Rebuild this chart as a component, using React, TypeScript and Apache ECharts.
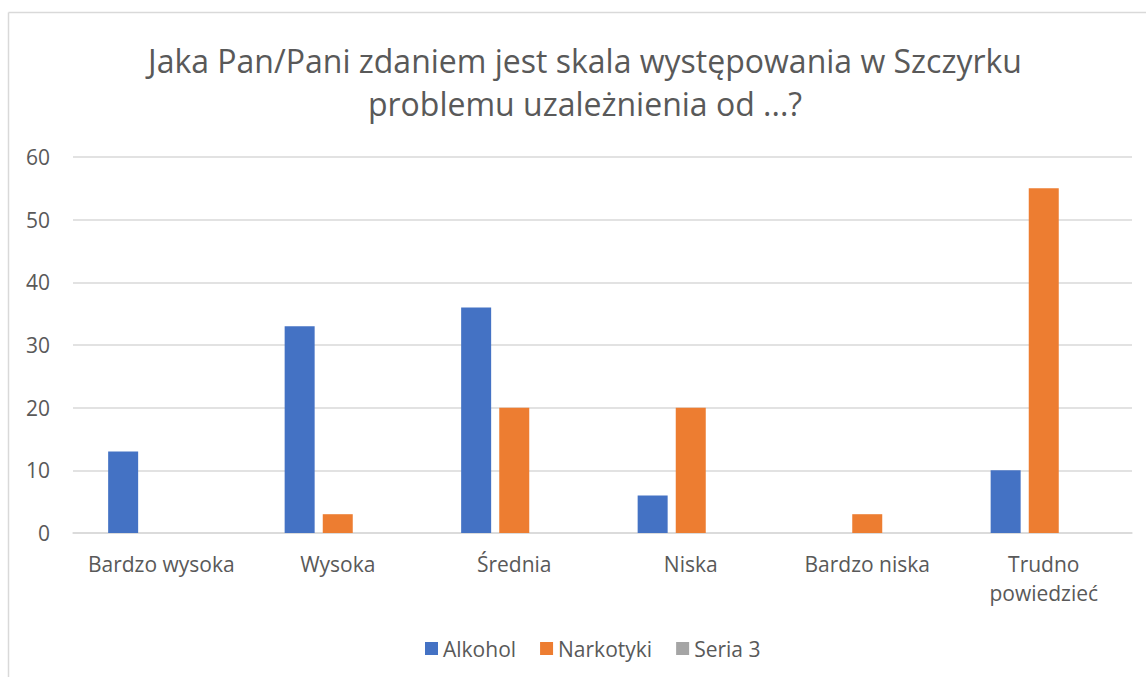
import React, { useEffect, useRef } from "react";
import * as echarts from "echarts";

const titleText = "Jaka Pan/Pani zdaniem jest skala występowania w Szczyrku\nproblemu uzależnienia od ...?";
const categories = ["Bardzo wysoka", "Wysoka", "Średnia", "Niska", "Bardzo niska", "Trudno\npowiedzieć"];
const alkohol: (number | null)[] = [13, 33, 36, 6, null, 10];
const narkotyki: (number | null)[] = [null, 3, 20, 20, 3, 55];
const seria3: (number | null)[] = [null, null, null, null, null, null];
const seriesNames = ["Alkohol", "Narkotyki", "Seria 3"];
const colors = ["#4472C4", "#ED7D31", "#A5A5A5"];

const FONT = "'Open Sans', 'Noto Sans', sans-serif";
const TXT = "#595959";

export default function App() {
  const ref = useRef<HTMLDivElement>(null);
  useEffect(() => {
    document.body.style.margin = "0";
    document.body.style.overflow = "hidden";
    const chart = echarts.init(ref.current!, null, { renderer: "svg" });
    const data = [alkohol, narkotyki, seria3];
    chart.setOption({
      animation: false,
      backgroundColor: "#ffffff",
      textStyle: { fontFamily: FONT },
      title: {
        text: titleText,
        left: 585,
        top: 39,
        textAlign: "center",
        padding: 0,
        textStyle: { fontFamily: FONT, fontSize: 32, fontWeight: "normal", color: TXT, lineHeight: 43 },
      },
      graphic: [
        { type: "line", shape: { x1: 8.5, y1: 12.5, x2: 8.5, y2: 700 }, style: { stroke: "#D9D9D9", lineWidth: 1.5 } },
        { type: "line", shape: { x1: 8.5, y1: 12.5, x2: 1200, y2: 12.5 }, style: { stroke: "#D9D9D9", lineWidth: 1.5 } },
      ],
      legend: {
        data: seriesNames,
        left: 420,
        top: 633,
        itemWidth: 13,
        itemHeight: 13,
        itemGap: 24,
        icon: "rect",
        textStyle: { fontFamily: FONT, fontSize: 21, color: TXT },
      },
      grid: { left: 73, right: 14, top: 157, bottom: 144, containLabel: false },
      xAxis: {
        type: "category",
        data: categories,
        axisLine: { show: true, lineStyle: { color: "#D9D9D9", width: 1.5 } },
        axisTick: { show: false },
        axisLabel: { fontFamily: FONT, fontSize: 21, color: TXT, margin: 16, lineHeight: 29, interval: 0 },
      },
      yAxis: {
        type: "value",
        min: 0,
        max: 60,
        interval: 10,
        axisLine: { show: false },
        axisTick: { show: false },
        splitLine: { lineStyle: { color: "#D9D9D9", width: 1.5 } },
        axisLabel: { fontFamily: FONT, fontSize: 21, color: TXT, margin: 23 },
      },
      series: seriesNames.map((name, i) => ({
        name,
        type: "bar",
        data: data[i],
        barWidth: 30,
        barGap: "27%",
        itemStyle: { color: colors[i] },
      })),
    });
    return () => chart.dispose();
  }, []);
  return <div ref={ref} style={{ width: 1146, height: 677 }} />;
}
